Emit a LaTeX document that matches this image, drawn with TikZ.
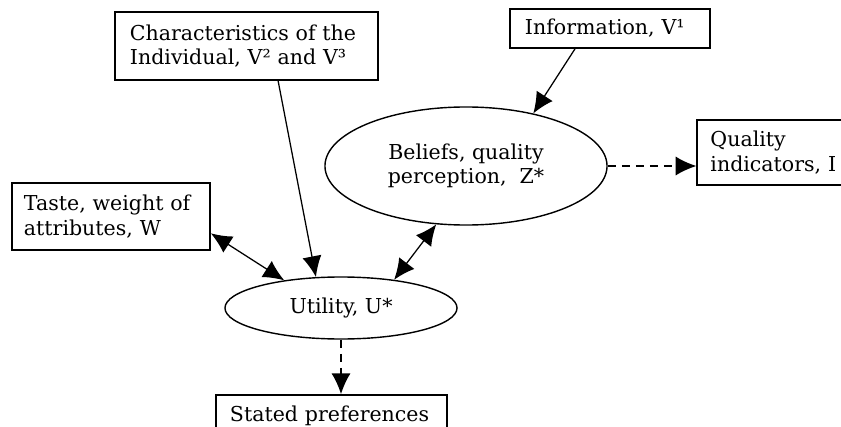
\documentclass[tikz,border=0pt]{standalone}
\usepackage{fontspec}
\setmainfont{DejaVu Serif}
\usetikzlibrary{arrows.meta,shapes.geometric}

\begin{document}
\begin{tikzpicture}[x=0.025cm,y=-0.025cm,
  >={Latex[length=5.2mm,width=4.8mm]},
  font=\fontsize{14.6}{17.5}\selectfont,
  box/.style={draw,line width=1.2pt,align=left,inner xsep=0.375cm,inner ysep=0pt},
  oval/.style={draw,ellipse,line width=1pt,align=center,inner sep=0pt},
  link/.style={draw,line width=0.9pt},
  dashlink/.style={link,line width=1.1pt,dash pattern=on 6pt off 4pt}]
\useasboundingbox (0,0) rectangle (841,427);
\node[box,text width=5.825cm,minimum height=1.7cm] (chars) at (246.5,46)
  {Characteristics of the\\Individual, V² and V³};
\node[box,text width=4.25cm,minimum height=0.975cm] (info) at (610,28.5)
  {Information, V¹};
\node[oval,minimum width=7.05cm,minimum height=2.95cm] (beliefs) at (466,166)
  {Beliefs, quality\\perception,~ Z*};
\node[box,inner xsep=0.33cm,text width=3.4cm,minimum height=1.625cm] (quality) at (778.5,152.5)
  {Quality\\indicators, I};
\node[box,inner xsep=0.3cm,text width=4.35cm,minimum height=1.675cm] (taste) at (111,216.5)
  {Taste, weight of\\attributes, W};
\node[oval,minimum width=5.8cm,minimum height=1.55cm] (utility) at (341,308)
  {Utility, U*};
\node[box,inner xsep=0.35cm,text width=5.075cm,minimum height=1.05cm] (stated) at (331.5,416)
  {Stated preferences};
% arrows
\draw[link,->] ([xshift=-0.875cm]info.south) -- (beliefs.38);
\draw[link,->] ([xshift=0.79cm]chars.south) -- (utility.129);
\draw[link,<->] ([yshift=-0.42cm]taste.east) -- (utility.154);
\draw[link,<->] (beliefs.243) -- (utility.28);
\draw[dashlink,->] (beliefs.east) -- (beliefs.east -| quality.west);
\draw[dashlink,->] (utility.south) -- (utility.south |- stated.north);
\end{tikzpicture}
\end{document}
